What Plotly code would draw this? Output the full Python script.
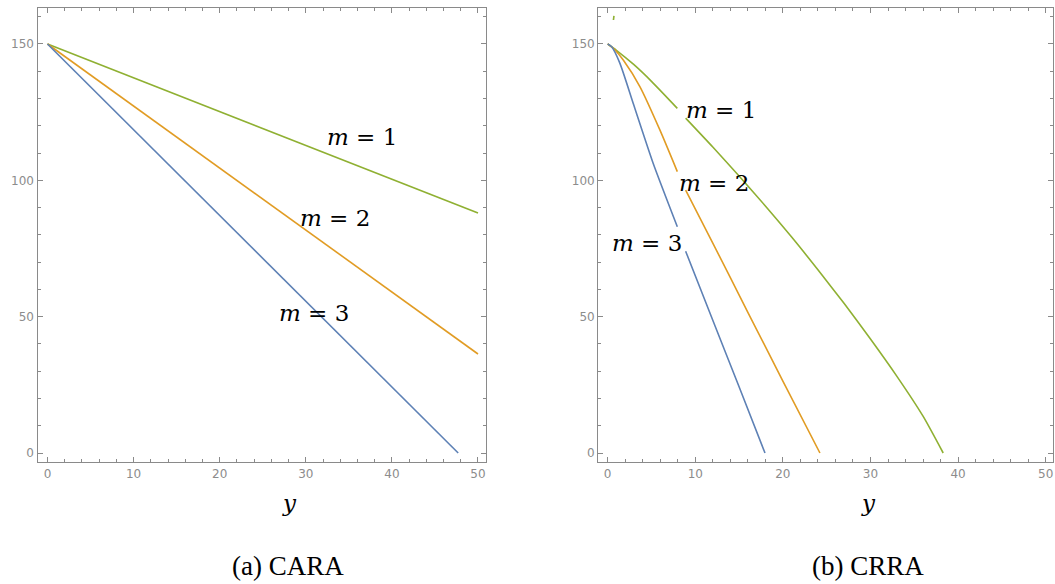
import plotly.graph_objects as go

# ---- data ----
# Panel (a) CARA
cara_x_m1 = [0, 25, 50]
cara_y_m1 = [150, 119, 88]
cara_x_m2 = [0, 25, 50]
cara_y_m2 = [150, 93.2, 36.3]
cara_x_m3 = [0, 24, 47.7]
cara_y_m3 = [150, 74.5, 0]

# Panel (b) CRRA (None = gap behind label)
crra_x_m1 = [0, 1, 3, 5, 7.95, None, 8.9, 12, 15, 18, 21, 24, 27, 30, 33, 36, 38.3]
crra_y_m1 = [150, 147.7, 142.4, 136.3, 126.4, None, 122.8, 112.2, 101.6, 90.6, 79.2, 67.2, 54.8, 41.8, 28.2, 13.5, 0]
crra_x_m2 = [0, 0.83, 1.78, 3.69, 5.97, 7.95, None, 8.9, 12, 16, 20, 24.23]
crra_y_m2 = [150, 147.8, 144.1, 134.3, 118.4, 103.2, None, 96.4, 77.0, 51.6, 26.4, 0]
crra_x_m3 = [0, 0.46, 1.4, 2.92, 5.2, 7.95, None, 8.9, 12, 15, 17.96]
crra_y_m3 = [150, 149, 142.9, 128.2, 106.2, 83, None, 74.0, 48.7, 24.3, 0]
crra_x_stray = [0.66, 0.72]
crra_y_stray = [158.8, 160.3]

x_ticks = [0, 10, 20, 30, 40, 50]
y_ticks = [0, 50, 100, 150]
labels = ["<i>m</i> = 1", "<i>m</i> = 2", "<i>m</i> = 3"]
cara_label_x = [36.5, 33.4, 30.9]
cara_label_y = [116.0, 86.2, 51.2]
crra_label_x = [12.93, 12.12, 4.5]
crra_label_y = [125.8, 99.1, 77.1]
captions = ["(a) CARA", "(b) CRRA"]

BLUE = "#5e81b5"
ORANGE = "#e19c24"
GREEN = "#8fb032"
FRAME = "#8a8a8a"

fig = go.Figure()

def add_line(x, y, color, xa, ya, shape="linear"):
    fig.add_trace(go.Scatter(x=x, y=y, mode="lines",
                             line=dict(color=color, width=1.6, shape=shape, smoothing=0.6),
                             xaxis=xa, yaxis=ya, showlegend=False, connectgaps=False,
                             hoverinfo="skip"))

add_line(cara_x_m1, cara_y_m1, GREEN, "x", "y")
add_line(cara_x_m2, cara_y_m2, ORANGE, "x", "y")
add_line(cara_x_m3, cara_y_m3, BLUE, "x", "y")
add_line(crra_x_m1, crra_y_m1, GREEN, "x2", "y2", "spline")
add_line(crra_x_m2, crra_y_m2, ORANGE, "x2", "y2", "spline")
add_line(crra_x_m3, crra_y_m3, BLUE, "x2", "y2", "spline")
add_line(crra_x_stray, crra_y_stray, GREEN, "x2", "y2")

W, H = 1055, 584

def axis_common():
    return dict(showgrid=False, zeroline=False, showline=True, linecolor=FRAME, linewidth=1.3,
                mirror="allticks", ticks="inside", ticklen=5, tickwidth=1, tickcolor=FRAME,
                tickfont=dict(family="DejaVu Sans", size=12, color="#8c8c8c"),
                fixedrange=True, automargin=False)

xa = axis_common()
xa.update(range=[-1.16, 50.93], domain=[37.5 / W, 486 / W], tickvals=x_ticks,
          minor=dict(dtick=2, ticks="inside", ticklen=3, tickcolor=FRAME, tickwidth=1), anchor="y")
ya = axis_common()
ya.update(range=[-3.3, 163.2], domain=[1 - 462 / H, 1 - 8 / H], tickvals=y_ticks,
          minor=dict(dtick=10, ticks="inside", ticklen=3, tickcolor=FRAME, tickwidth=1), anchor="x")
xa2 = axis_common()
xa2.update(range=[-1.07, 50.87], domain=[598.3 / W, 1053.3 / W], tickvals=x_ticks,
           minor=dict(dtick=2, ticks="inside", ticklen=3, tickcolor=FRAME, tickwidth=1), anchor="y2")
ya2 = axis_common()
ya2.update(range=[-3.3, 163.2], domain=[1 - 462 / H, 1 - 8 / H], tickvals=y_ticks,
           minor=dict(dtick=10, ticks="inside", ticklen=3, tickcolor=FRAME, tickwidth=1), anchor="x2")

annotations = []
label_font = dict(family="DejaVu Serif", size=23, color="black")
for t, lx, ly in zip(labels, cara_label_x, cara_label_y):
    annotations.append(dict(x=lx, y=ly, xref="x", yref="y", text=t, showarrow=False, font=label_font))
for t, lx, ly in zip(labels, crra_label_x, crra_label_y):
    annotations.append(dict(x=lx, y=ly, xref="x2", yref="y2", text=t, showarrow=False, font=label_font))

for cx in [289 / W, 868 / W]:
    annotations.append(dict(x=cx, y=1 - 503 / H, xref="paper", yref="paper", text="<i>y</i>",
                            xanchor="center", yanchor="middle", showarrow=False,
                            font=dict(family="DejaVu Serif", size=23, color="black")))
for cap, cx in zip(captions, [288 / W, 868 / W]):
    annotations.append(dict(x=cx, y=1 - 566 / H, xref="paper", yref="paper", text=cap,
                            xanchor="center", yanchor="middle", showarrow=False,
                            font=dict(family="Liberation Serif", size=27, color="black")))

fig.update_layout(width=W, height=H, margin=dict(l=0, r=0, t=0, b=0),
                  paper_bgcolor="white", plot_bgcolor="white",
                  xaxis=xa, yaxis=ya, xaxis2=xa2, yaxis2=ya2,
                  annotations=annotations, showlegend=False)

fig.write_html("out.html", config={"displayModeBar": False},
               post_script="document.body.style.margin='0';document.body.style.overflow='hidden';")
